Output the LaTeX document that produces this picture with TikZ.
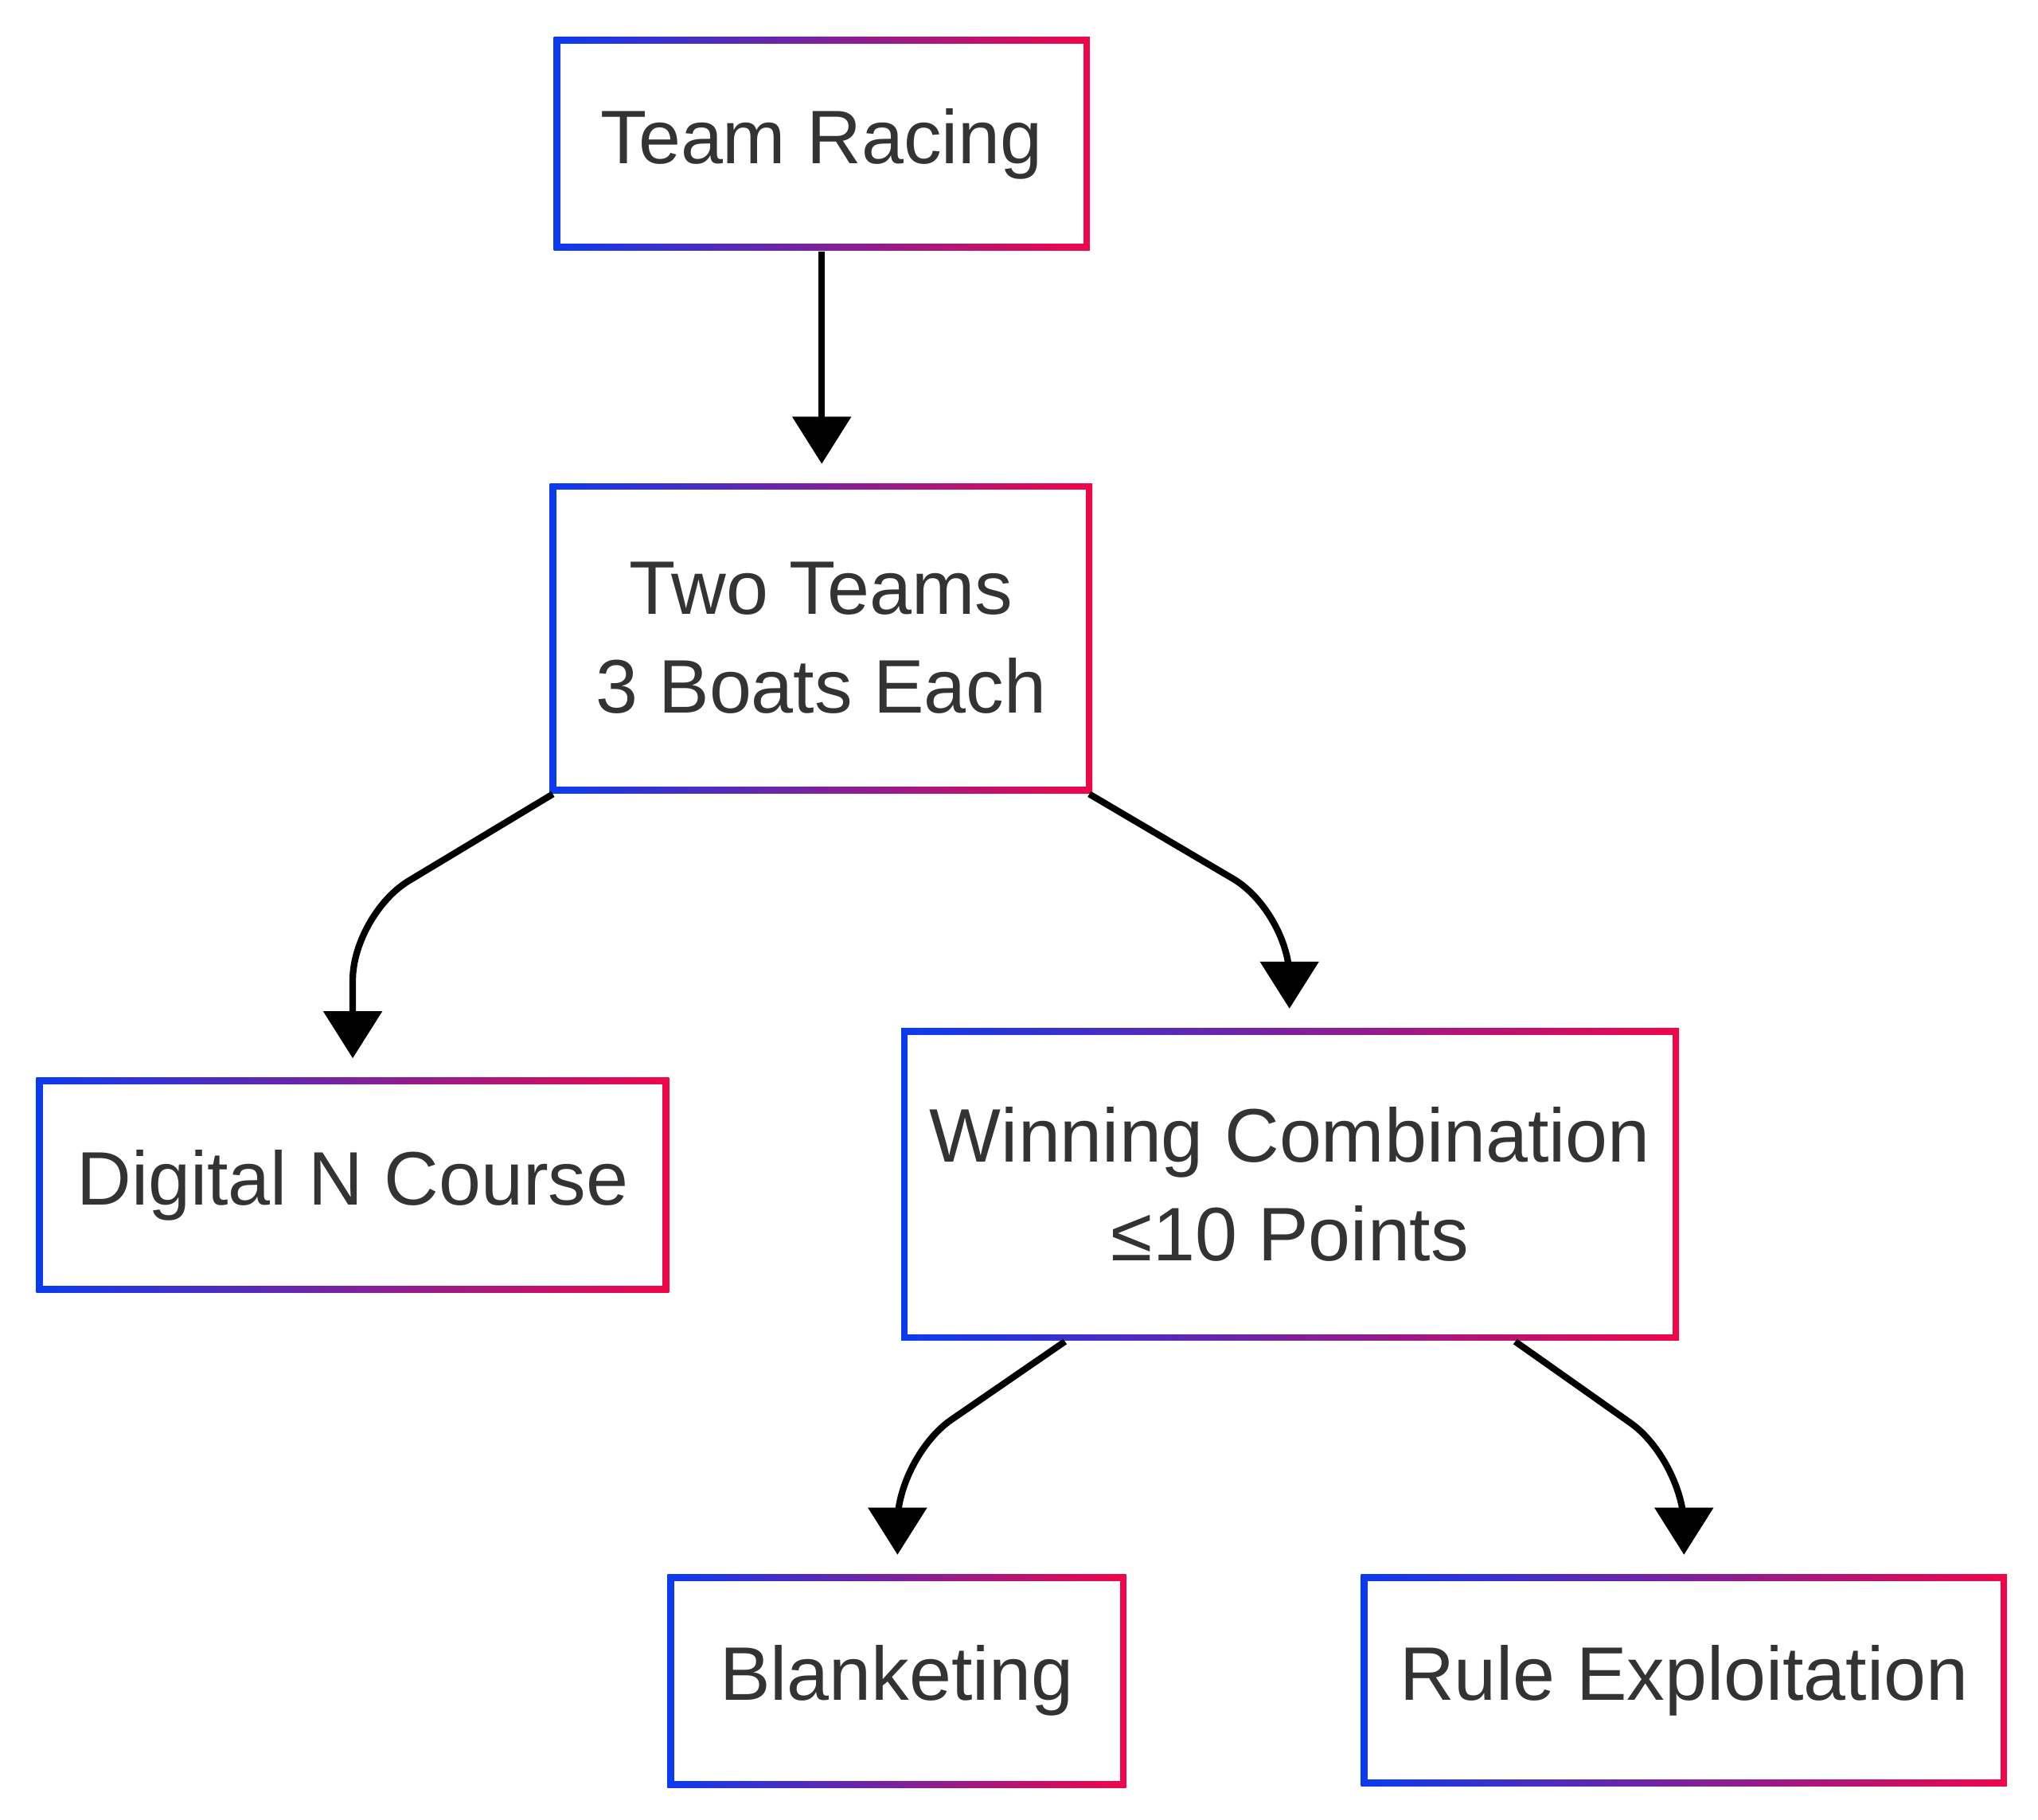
\documentclass[tikz,border=0pt]{standalone}
\usepackage{fontspec}
\setmainfont{Liberation Sans}
\usetikzlibrary{arrows.meta,positioning}
\definecolor{txt}{HTML}{333333}
\definecolor{lblue}{HTML}{0A3BF0}
\definecolor{lred}{HTML}{F0064A}

\begin{document}
\begin{tikzpicture}[x=0.01cm,y=-0.01cm,
	gbox/.style={minimum width=#1cm,inner sep=0pt,align=center,text=txt,
		font=\fontsize{16.5}{21.5}\selectfont,
		path picture={
			\shade[left color=lblue,right color=lred] (path picture bounding box.south west) rectangle (path picture bounding box.north east);
			\fill[white] ([shift={(0.05cm,0.05cm)}]path picture bounding box.south west) rectangle ([shift={(-0.05cm,-0.05cm)}]path picture bounding box.north east);}},
	link/.style={line width=0.05cm,rounded corners=0.5cm,-{Triangle[width=0.44cm,length=0.36cm]}}]
	\useasboundingbox (0,0) rectangle (1560,1393);

	 \node at (629,110) [gbox=4.1,minimum height=1.63cm] (racing) {Team Racing};
	 \node at (628.5,488.5) [gbox=4.15,minimum height=2.37cm] (teams) {Two Teams\\3 Boats Each};
	 \node at (270,907) [gbox=4.84,minimum height=1.64cm] (course) {Digital N Course};
	 \node at (987.5,906.5) [gbox=5.95,minimum height=2.39cm] (combo) {Winning Combination\\≤10 Points};
	 \node at (686.5,1286.5) [gbox=3.51,minimum height=1.63cm] (blanket) {Blanketing};
	 \node at (1289,1286) [gbox=4.94,minimum height=1.62cm] (rules) {Rule Exploitation};

	 \draw[link] (racing) -- (629,355);
	 \draw[link] ([xshift=0.03cm]teams.south west) -- (270,700) -- (270,810);
	 \draw[link] ([xshift=-0.03cm]teams.south east) -- (987,698) -- (987,772);
	 \draw[link] ([xshift=1.26cm]combo.south west) -- (687,1115) -- (687,1190);
	 \draw[link] ([xshift=-1.26cm]combo.south east) -- (1289,1118) -- (1289,1190);

\end{tikzpicture}
\end{document}
